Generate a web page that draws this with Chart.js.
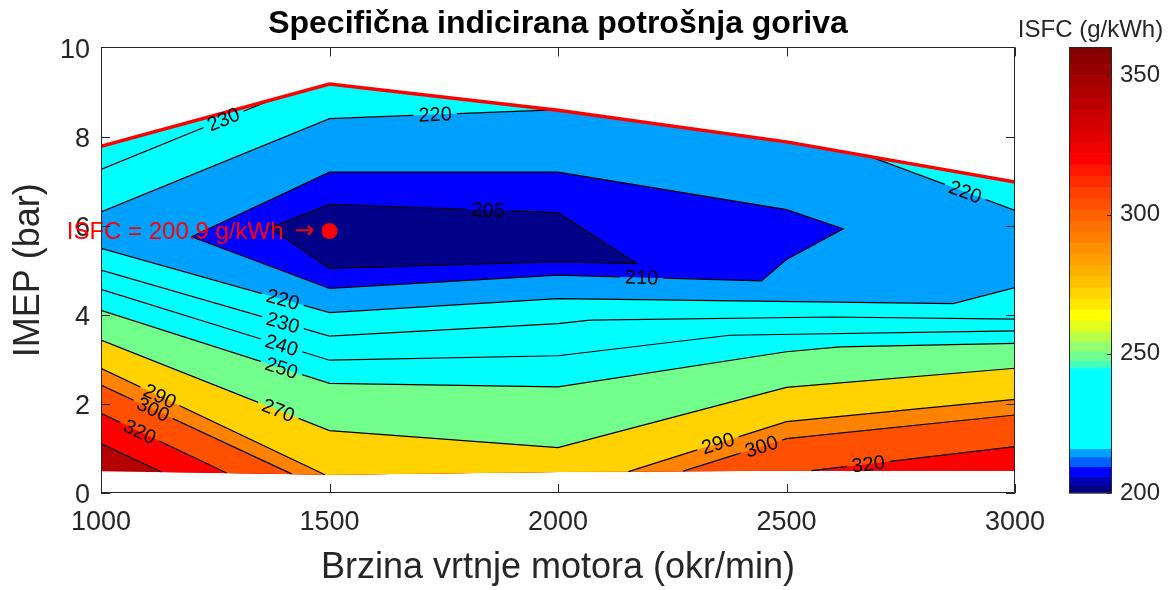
<!DOCTYPE html>
<html>
<head>
<meta charset="utf-8">
<title>Specifična indicirana potrošnja goriva</title>
<script src="https://cdn.jsdelivr.net/npm/chart.js@4.4.1/dist/chart.umd.min.js"></script>
<style>
  html, body { margin: 0; padding: 0; background: #fff; }
</style>
</head>
<body>
<canvas id="isfc" width="1171" height="590"></canvas>
<script>
const FONT = "'Liberation Sans', Arial, Helvetica, sans-serif";
const INK = '#262626';

const speedTicks = [1000, 1500, 2000, 2500, 3000];
const imepTicks = [0, 2, 4, 6, 8, 10];
const cbTicks = [200, 250, 300, 350];

// measured field: max / min load
const loadSpeed = [1000, 1500, 2000, 2500, 3000];
const maxLoadImep = [7.78, 9.18, 8.59, 7.88, 6.98];
const minLoadImep = [0.49, 0.41, 0.47, 0.5, 0.5];

// best efficiency point
const bestSpeed = 1500;
const bestImep = 5.88;
const bestIsfc = 200.9;

// contour levels and the fill colour of the band just below each level (last one = above top level)
const levels = [205, 210, 220, 230, 240, 250, 270, 290, 300, 320, 340];
const bandColors = ['#000088', '#0000ff', '#00a0ff', '#00ffff', '#00ffff', '#00ffff',
  '#73ff8c', '#ffd200', '#ff8200', '#ff5000', '#ff0000', '#b40000'];

// iso-lines, [speed, imep]
const c205 = [[1370, 5.95], [1500, 6.48], [2000, 6.29], [2172, 5.15], [2000, 5.19], [1500, 5.04]];
const c210 = [[1198, 5.75], [1500, 7.2], [2000, 7.2], [2500, 6.36], [2624, 5.93], [2500, 5.24], [2445, 4.76], [2000, 4.89], [1500, 4.59]];
const c220top = [[1000, 6.31], [1500, 8.4], [1990, 8.6]];
const c220right = [[2683, 7.55], [3000, 6.34]];
const c220low = [[1000, 5.49], [1500, 4.05], [2000, 4.36], [2865, 4.25], [3000, 4.61]];
const c230top = [[1000, 7.26], [1375, 8.83]];
const c230low = [[1000, 5.0], [1500, 3.52], [2000, 3.8], [2070, 3.88], [2600, 3.95], [3000, 3.9]];
const c240low = [[1000, 4.57], [1500, 2.98], [2000, 3.08], [2376, 3.54], [3000, 3.64]];
const c250low = [[1000, 4.1], [1500, 2.46], [2000, 2.38], [2500, 3.17], [2617, 3.28], [3000, 3.36]];
const c270low = [[1000, 3.43], [1500, 1.4], [2000, 1.02], [2500, 2.37], [3000, 2.8]];
const c290left = [[1000, 2.8], [1490, 0.41]];
const c290right = [[2154, 0.48], [2500, 1.6], [3000, 2.1]];
const c300left = [[1000, 2.42], [1417, 0.43]];
const c300right = [[2274, 0.49], [2500, 1.22], [3000, 1.75]];
const c320left = [[1000, 1.79], [1275, 0.45]];
const c320right = [[2555, 0.5], [3000, 1.04]];
const c340left = [[1000, 1.11], [1133, 0.47]];

const isoLines = [c205, c210, c220top, c220right, c220low, c230top, c230low, c240low, c250low,
  c270low, c290left, c290right, c300left, c300right, c320left, c320right, c340left];
const closedLines = [c205, c210];

// region ISFC <= level: closed loop, or the field cut by iso-lines from above / below
const sublevel = {
  205: { loop: c205 },
  210: { loop: c210 },
  220: { upper: [c220top, c220right], lower: [c220low] },
  230: { upper: [c230top], lower: [c230low] },
  240: { upper: [], lower: [c240low] },
  250: { upper: [], lower: [c250low] },
  270: { upper: [], lower: [c270low] },
  290: { upper: [], lower: [c290left, c290right] },
  300: { upper: [], lower: [c300left, c300right] },
  320: { upper: [], lower: [c320left, c320right] },
  340: { upper: [], lower: [c340left] },
};

// inline labels: line, speed where it sits, (segment for closed lines)
const isoLabels = [
  { text: '230', line: c230top, at: 1268 },
  { text: '220', line: c220top, at: 1731 },
  { text: '205', line: c205, at: 1847, seg: 1 },
  { text: '210', line: c210, at: 2183, seg: 6 },
  { text: '220', line: c220right, at: 2891 },
  { text: '220', line: c220low, at: 1398 },
  { text: '230', line: c230low, at: 1398 },
  { text: '240', line: c240low, at: 1395 },
  { text: '250', line: c250low, at: 1395 },
  { text: '270', line: c270low, at: 1388 },
  { text: '290', line: c290left, at: 1129 },
  { text: '300', line: c300left, at: 1114 },
  { text: '320', line: c320left, at: 1085 },
  { text: '290', line: c290right, at: 2350 },
  { text: '300', line: c300right, at: 2445 },
  { text: '320', line: c320right, at: 2679 },
];

// colour bar steps
const cbEdges = [200, 203, 206, 209.5, 213, 216, 245, 247.5, 251, 254.5, 258, 262, 266, 270, 274, 278, 282,
  286, 290, 294, 298, 302, 306, 310, 314, 318, 322, 326, 330, 334, 338, 342, 346, 350, 354, 358, 360];
const cbColors = ['#000080', '#0000b4', '#0000ff', '#0060ff', '#00a0ff', '#00ffff', '#40ffc0', '#70ff90',
  '#90ff70', '#b8ff48', '#e0ff20', '#ffff00', '#ffe800', '#ffd400', '#ffc000', '#ffb000', '#ffa000',
  '#ff9000', '#ff8000', '#ff7000', '#ff6000', '#ff5000', '#ff4000', '#ff2c00', '#ff1800', '#ff0000',
  '#f00000', '#e00000', '#d40000', '#c80000', '#bc0000', '#b00000', '#a40000', '#980000', '#8c0000', '#800000'];

const topEdge = loadSpeed.map((s, i) => [s, maxLoadImep[i]]);
const bottomEdge = loadSpeed.map((s, i) => [s, minLoadImep[i]]);

const LABEL_FONT = '20px ' + FONT;

function toPx(chart, p) {
  return [chart.scales.x.getPixelForValue(p[0]), chart.scales.y.getPixelForValue(p[1])];
}

// walk along an edge of the field, jumping onto the iso-line pieces
function stitch(pieces, edge) {
  const out = [];
  let x = -Infinity;
  pieces.forEach((p) => {
    edge.forEach((e) => { if (e[0] > x && e[0] < p[0][0]) out.push(e); });
    out.push(...p);
    x = p[p.length - 1][0];
  });
  edge.forEach((e) => { if (e[0] > x) out.push(e); });
  return out;
}

function tracePolygon(ctx, chart, pts) {
  ctx.beginPath();
  pts.forEach((p, i) => {
    const [X, Y] = toPx(chart, p);
    if (i) ctx.lineTo(X, Y); else ctx.moveTo(X, Y);
  });
  ctx.closePath();
}

function placeLabel(chart, lab) {
  const pts = lab.line;
  let k = lab.seg;
  if (k === undefined) {
    k = pts.findIndex((p, i) => i < pts.length - 1 && (p[0] - lab.at) * (pts[i + 1][0] - lab.at) <= 0);
  }
  const a = pts[k];
  const b = pts[(k + 1) % pts.length];
  const t = (lab.at - a[0]) / (b[0] - a[0]);
  const [X, Y] = toPx(chart, [lab.at, a[1] + t * (b[1] - a[1])]);
  const [ax, ay] = toPx(chart, a);
  const [bx, by] = toPx(chart, b);
  let ang = Math.atan2(by - ay, bx - ax);
  if (ang > Math.PI / 2) ang -= Math.PI;
  if (ang < -Math.PI / 2) ang += Math.PI;
  return { X, Y, ang };
}

const contourFill = {
  id: 'contourFill',
  beforeDatasetsDraw(chart) {
    const ctx = chart.ctx;
    ctx.save();
    tracePolygon(ctx, chart, stitch([], topEdge).concat(stitch([], bottomEdge).reverse()));
    ctx.fillStyle = bandColors[levels.length];
    ctx.fill();
    for (let i = levels.length - 1; i >= 0; i--) {
      const r = sublevel[levels[i]];
      const poly = r.loop ? r.loop : stitch(r.upper, topEdge).concat(stitch(r.lower, bottomEdge).reverse());
      tracePolygon(ctx, chart, poly);
      ctx.fillStyle = bandColors[i];
      ctx.fill();
    }
    ctx.restore();
  },
};

const contourLabels = {
  id: 'contourLabels',
  beforeDatasetDraw(chart, args) {
    const line = chart.data.datasets[args.index].isoLine;
    if (!line) return;
    const ctx = chart.ctx;
    const area = chart.chartArea;
    ctx.save();
    ctx.font = LABEL_FONT;
    ctx.beginPath();
    ctx.rect(area.left, area.top, area.width, area.height);
    isoLabels.filter((l) => l.line === line).forEach((lab) => {
      const { X, Y, ang } = placeLabel(chart, lab);
      const w = ctx.measureText(lab.text).width / 2 + 5;
      const h = 8;
      const c = Math.cos(ang);
      const s = Math.sin(ang);
      const corners = [[-w, -h], [w, -h], [w, h], [-w, h]].map(([u, v]) => [X + u * c - v * s, Y + u * s + v * c]);
      ctx.moveTo(corners[0][0], corners[0][1]);
      corners.slice(1).forEach((q) => ctx.lineTo(q[0], q[1]));
      ctx.closePath();
    });
    ctx.clip('evenodd');
  },
  afterDatasetDraw(chart, args) {
    if (chart.data.datasets[args.index].isoLine) chart.ctx.restore();
  },
  afterDatasetsDraw(chart) {
    const ctx = chart.ctx;
    ctx.save();
    ctx.font = LABEL_FONT;
    ctx.fillStyle = '#000';
    ctx.textAlign = 'center';
    ctx.textBaseline = 'middle';
    isoLabels.forEach((lab) => {
      const { X, Y, ang } = placeLabel(chart, lab);
      ctx.save();
      ctx.translate(X, Y);
      ctx.rotate(ang);
      ctx.fillText(lab.text, 0, 1);
      ctx.restore();
    });
    // best point annotation, arrow ends just before the marker
    const [bx, by] = toPx(chart, [bestSpeed, bestImep]);
    ctx.fillStyle = '#ff0000';
    ctx.textAlign = 'right';
    ctx.font = "24px 'DejaVu Sans', sans-serif";
    ctx.fillText('\u2192', bx - 15, by + 1);
    ctx.font = '24px ' + FONT;
    ctx.fillText('ISFC = ' + bestIsfc.toFixed(1) + ' g/kWh', bx - 46, by + 1);
    ctx.restore();
  },
};

const frameAndBar = {
  id: 'frameAndBar',
  afterDraw(chart) {
    const ctx = chart.ctx;
    const a = chart.chartArea;
    const { x, y, cb } = chart.scales;
    const tick = 9;
    ctx.save();
    ctx.strokeStyle = INK;
    ctx.lineWidth = 1;
    ctx.beginPath();
    ctx.rect(Math.round(a.left) + 0.5, Math.round(a.top) + 0.5, Math.round(a.width) - 1, Math.round(a.height) - 1);
    x.ticks.forEach((t) => {
      const X = Math.round(x.getPixelForValue(t.value)) + 0.5;
      ctx.moveTo(X, a.bottom); ctx.lineTo(X, a.bottom - tick);
      ctx.moveTo(X, a.top); ctx.lineTo(X, a.top + tick);
    });
    y.ticks.forEach((t) => {
      const Y = Math.round(y.getPixelForValue(t.value)) + 0.5;
      ctx.moveTo(a.left, Y); ctx.lineTo(a.left + tick, Y);
      ctx.moveTo(a.right, Y); ctx.lineTo(a.right - tick, Y);
    });
    ctx.stroke();

    // colour bar
    const x0 = Math.round(a.right) + 54;
    const w = 43;
    for (let i = 0; i < cbColors.length; i++) {
      const y1 = cb.getPixelForValue(cbEdges[i]);
      const y2 = cb.getPixelForValue(cbEdges[i + 1]);
      ctx.fillStyle = cbColors[i];
      ctx.fillRect(x0, y2, w, y1 - y2 + 0.6);
    }
    ctx.beginPath();
    ctx.rect(x0 + 0.5, Math.round(cb.top) + 0.5, w - 1, Math.round(cb.bottom - cb.top) - 1);
    cb.ticks.forEach((t) => {
      const Y = Math.round(cb.getPixelForValue(t.value)) + 0.5;
      ctx.moveTo(x0 + w - 1, Y); ctx.lineTo(x0 + w - 5, Y);
    });
    ctx.stroke();
    ctx.fillStyle = INK;
    ctx.font = '24px ' + FONT;
    ctx.textAlign = 'center';
    ctx.textBaseline = 'middle';
    ctx.fillText('ISFC (g/kWh)', x0 + w / 2, 30);
    ctx.restore();
  },
};

const pts = (arr) => arr.map((p) => ({ x: p[0], y: p[1] }));
const plain = (v) => String(v);

new Chart(document.getElementById('isfc'), {
  type: 'scatter',
  data: {
    datasets: [
      {
        data: [{ x: bestSpeed, y: bestImep }],
        pointRadius: 8,
        pointBackgroundColor: '#ff0000',
        pointBorderWidth: 0,
        showLine: false,
      },
      {
        data: pts(topEdge),
        showLine: true,
        borderColor: '#ff0000',
        borderWidth: 3.5,
        pointRadius: 0,
      },
      ...isoLines.map((line) => ({
        data: pts(closedLines.includes(line) ? line.concat([line[0]]) : line),
        isoLine: line,
        showLine: true,
        borderColor: '#000',
        borderWidth: 1.2,
        pointRadius: 0,
      })),
    ],
  },
  options: {
    responsive: false,
    animation: false,
    events: [],
    layout: { padding: 0 },
    plugins: {
      legend: { display: false },
      tooltip: { enabled: false },
      title: {
        display: true,
        fullSize: false,
        text: 'Specifična indicirana potrošnja goriva',
        color: '#000',
        font: { family: FONT, size: 32, weight: 'bold' },
        padding: { top: 5, bottom: 4 },
      },
    },
    scales: {
      x: {
        type: 'linear',
        position: 'bottom',
        min: 1000,
        max: 3000,
        afterBuildTicks: (s) => { s.ticks = speedTicks.map((v) => ({ value: v })); },
        afterFit: (s) => { s.height = 97; },
        grid: { display: false, drawTicks: false },
        border: { display: false },
        ticks: { color: INK, font: { family: FONT, size: 27 }, padding: 13, maxRotation: 0, autoSkip: false, callback: plain },
        title: {
          display: true,
          text: 'Brzina vrtnje motora (okr/min)',
          color: INK,
          font: { family: FONT, size: 36 },
          padding: { top: 0, bottom: 0 },
        },
      },
      y: {
        type: 'linear',
        position: 'left',
        min: 0,
        max: 10,
        afterBuildTicks: (s) => { s.ticks = imepTicks.map((v) => ({ value: v })); },
        afterFit: (s) => { s.width = 101; },
        grid: { display: false, drawTicks: false },
        border: { display: false },
        ticks: { color: INK, font: { family: FONT, size: 27 }, padding: 11, labelOffset: 3, callback: plain },
        title: {
          display: true,
          text: 'IMEP (bar)',
          color: INK,
          font: { family: FONT, size: 36 },
          padding: { top: 7, bottom: 0 },
        },
      },
      cb: {
        type: 'linear',
        axis: 'y',
        position: 'right',
        min: 200,
        max: 360,
        afterBuildTicks: (s) => { s.ticks = cbTicks.map((v) => ({ value: v })); },
        afterFit: (s) => { s.width = 156; },
        // invisible tick marks only push the labels past the colour bar
        grid: { display: false, drawTicks: true, tickLength: 105 },
        border: { display: false },
        ticks: { color: INK, font: { family: FONT, size: 24 }, padding: 0, callback: plain },
      },
    },
  },
  plugins: [contourFill, contourLabels, frameAndBar],
});
</script>
</body>
</html>
